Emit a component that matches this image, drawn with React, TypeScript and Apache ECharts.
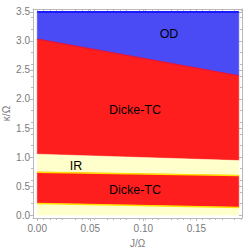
import React, { useEffect, useRef } from "react";
import * as echarts from "echarts";

// Data
const xs = [0, 0.19];
const topBoundary = [3.5, 3.5];
const odBoundary = [3.03, 2.4];
const irUpper = [1.05, 0.94];
const irLower = [0.74, 0.68];
const lowBoundary = [0.2, 0.13];
const bottomBoundary = [0, 0];

const xTicks = [0, 0.05, 0.1, 0.15];
const yTicks = [0, 0.5, 1, 1.5, 2, 2.5, 3, 3.5];

const BLUE = "#4b4bf6";
const RED = "#ff1e1e";
const CREAM = "#ffffcc";

const bands = [
  { lo: odBoundary, hi: topBoundary, color: BLUE },
  { lo: irUpper, hi: odBoundary, color: RED },
  { lo: irLower, hi: irUpper, color: CREAM },
  { lo: lowBoundary, hi: irLower, color: RED },
  { lo: bottomBoundary, hi: lowBoundary, color: CREAM },
];

const lines = [
  { y: topBoundary, color: "#1a1aff", width: 2 },
  { y: odBoundary, color: "#e0143c", width: 1.2 },
  { y: irLower, color: "#ffe000", width: 1.5 },
  { y: lowBoundary, color: "#ffe000", width: 1.5 },
];

export default function App() {
  const ref = useRef<HTMLDivElement>(null);
  useEffect(() => {
    if (!ref.current) return;
    const chart = echarts.init(ref.current, undefined, { renderer: "svg" });
    const frame = "#b8b8b8";
    const labelColor = "#7a7a7a";
    const font = "Liberation Sans";
    const xRange = { min: -0.004, max: 0.193 };
    const yRange = { min: -0.05, max: 3.55 };
    const tick = (inside: boolean, vals: number[]) => ({
      show: true,
      inside,
      length: 3,
      lineStyle: { color: frame },
      customValues: vals,
    });
    const minor = { show: true, splitNumber: 5, length: 2, lineStyle: { color: frame } };
    const line = { show: true, onZero: false, lineStyle: { color: frame, width: 1 } };
    chart.setOption({
      animation: false,
      grid: { left: 33, right: 7, top: 9, bottom: 31, outerBoundsMode: "none", containLabel: false },
      xAxis: [
        {
          type: "value",
          ...xRange,
          name: "J/Ω",
          nameLocation: "middle",
          nameGap: 20,
          nameMoveOverlap: false,
          nameTextStyle: { color: labelColor, fontSize: 10, fontFamily: font },
          axisLine: line,
          axisTick: tick(false, xTicks),
          minorTick: minor,
          splitLine: { show: false },
          axisLabel: {
            color: labelColor,
            fontSize: 10,
            fontFamily: font,
            margin: 5,
            hideOverlap: false,
            customValues: xTicks,
            formatter: (v: number) => v.toFixed(2),
          },
        },
        {
          type: "value",
          position: "top",
          ...xRange,
          axisLine: line,
          axisTick: tick(true, xTicks),
          minorTick: minor,
          splitLine: { show: false },
          axisLabel: { show: false },
        },
      ],
      yAxis: [
        {
          type: "value",
          ...yRange,
          name: "κ/Ω",
          nameLocation: "middle",
          nameGap: 22,
          nameMoveOverlap: false,
          nameRotate: 90,
          nameTextStyle: { color: labelColor, fontSize: 10, fontFamily: font },
          axisLine: line,
          axisTick: tick(false, yTicks),
          minorTick: minor,
          splitLine: { show: false },
          axisLabel: {
            color: labelColor,
            fontSize: 10,
            fontFamily: font,
            margin: 3,
            customValues: yTicks,
            formatter: (v: number) => v.toFixed(1),
          },
        },
        {
          type: "value",
          position: "right",
          ...yRange,
          axisLine: line,
          axisTick: tick(true, yTicks),
          minorTick: minor,
          splitLine: { show: false },
          axisLabel: { show: false },
        },
      ],
      series: [
        {
          type: "custom",
          xAxisIndex: 0,
          yAxisIndex: 0,
          silent: true,
          clip: true,
          data: bands.map((_, i) => [i]),
          renderItem: (params: any, api: any) => {
            const b = bands[api.value(0)];
            const pts = [
              api.coord([xs[0], b.hi[0]]),
              api.coord([xs[1], b.hi[1]]),
              api.coord([xs[1], b.lo[1]]),
              api.coord([xs[0], b.lo[0]]),
            ];
            return {
              type: "polygon",
              shape: { points: pts },
              style: { fill: b.color, stroke: b.color, lineWidth: 0.5 },
            };
          },
        },
        ...lines.map((l) => ({
          type: "line",
          xAxisIndex: 0,
          yAxisIndex: 0,
          silent: true,
          symbol: "none",
          data: xs.map((x, i) => [x, l.y[i]]),
          lineStyle: { color: l.color, width: l.width },
        })),
      ],
      graphic: [
        { type: "text", z: 100, x: 169, y: 34, style: { text: "OD", fill: "#000", fontSize: 12.5, fontFamily: font, align: "center", verticalAlign: "middle" } },
        { type: "text", z: 100, x: 135, y: 110, style: { text: "Dicke-TC", fill: "#000", fontSize: 12.5, fontFamily: font, align: "center", verticalAlign: "middle" } },
        { type: "text", z: 100, x: 76, y: 166, style: { text: "IR", fill: "#000", fontSize: 12.5, fontFamily: font, align: "center", verticalAlign: "middle" } },
        { type: "text", z: 100, x: 135, y: 190, style: { text: "Dicke-TC", fill: "#000", fontSize: 12.5, fontFamily: font, align: "center", verticalAlign: "middle" } },
      ],
    });
    return () => chart.dispose();
  }, []);
  return <div ref={ref} style={{ width: 249, height: 249, position: "absolute", left: 0, top: 0 }} />;
}
